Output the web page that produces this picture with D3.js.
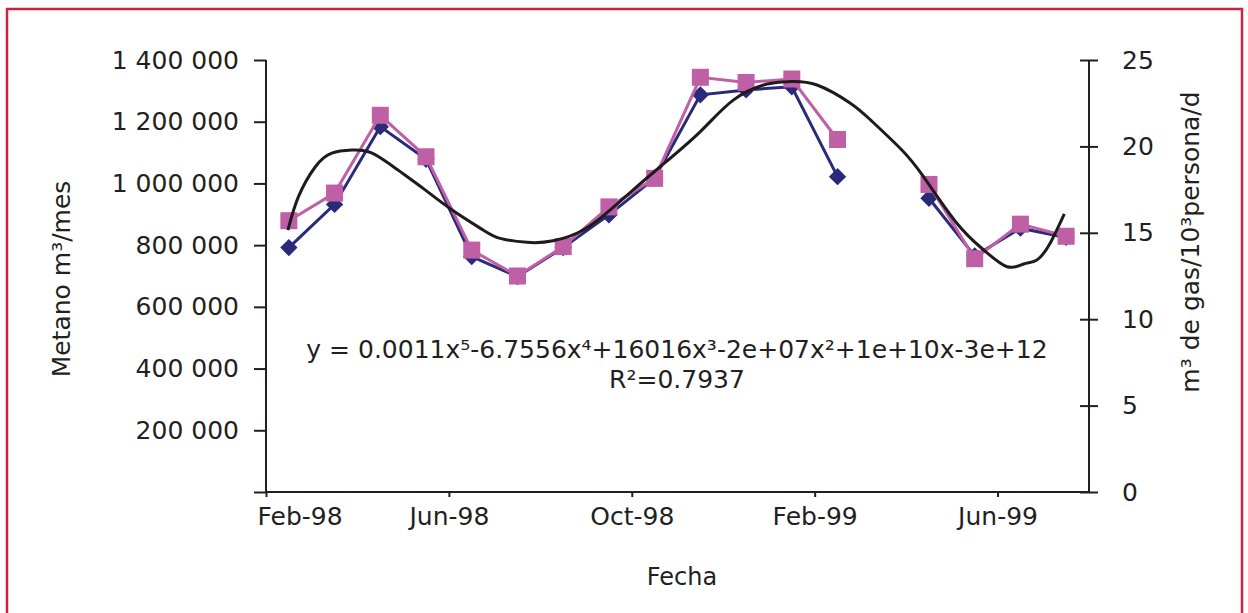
<!DOCTYPE html>
<html>
<head>
<meta charset="utf-8">
<script src="https://cdn.jsdelivr.net/npm/d3@7"></script>
<style>
  body { margin: 0; background: #fff; }
  svg text { font-family: "DejaVu Sans", sans-serif; fill: #231f20; }
  .axis path, .axis line { stroke: #231f20; stroke-width: 2; }
</style>
</head>
<body>
<div id="chart"></div>
<script>
// months of the date axis (one slot per month)
const months = ['Feb-98','Mar-98','Apr-98','May-98','Jun-98','Jul-98','Aug-98','Sep-98',
                'Oct-98','Nov-98','Dec-98','Jan-99','Feb-99','Mar-99','Apr-99','May-99',
                'Jun-99','Jul-99'];
// Metano m³/mes (left axis) - diamonds, no reading for Mar-99
const metano = [792000, 932000, 1184000, 1078000, 763000, 698000, 792000, 898000,
                1017000, 1287000, 1303000, 1313000, 1022000, null, 952000, 765000,
                855000, 825000];
// m³ de gas/10³persona/d (right axis) - squares
const gasPersona = [15.7, 17.3, 21.8, 19.4, 14.0, 12.5, 14.2, 16.5,
                    18.15, 24.0, 23.7, 23.9, 20.4, null, 17.8, 13.5,
                    15.5, 14.8];
// polynomial trend line: position in months from start of Feb-98, value (left units)
const trendPos = [0.48, 0.71, 1.08, 1.44, 1.88, 2.32, 2.89, 3.48, 4.07, 4.75, 5.12, 5.71,
                  6.28, 6.94, 7.53, 8.03, 8.62, 9.50, 10.22, 10.96, 11.47, 12.05, 12.78,
                  13.22, 13.87, 14.38, 15.11, 15.70, 16.21, 16.57, 16.86, 17.15, 17.46];
const trendVal = [849000, 957000, 1054000, 1098000, 1108000, 1098000, 1043000, 979000,
                  914000, 849000, 822000, 809000, 814000, 849000, 914000, 979000, 1054000,
                  1168000, 1270000, 1322000, 1330000, 1319000, 1260000, 1206000, 1114000,
                  1022000, 871000, 784000, 730000, 739000, 752000, 806000, 901000];
const leftTicks = [0, 200000, 400000, 600000, 800000, 1000000, 1200000, 1400000];
const rightTicks = [0, 5, 10, 15, 20, 25];
const xTickMonths = ['Feb-98', 'Jun-98', 'Oct-98', 'Feb-99', 'Jun-99'];
const equation = 'y = 0.0011x⁵-6.7556x⁴+16016x³-2e+07x²+1e+10x-3e+12';
const rSquared = 'R²=0.7937';

const width = 1248, height = 613;
const plot = {left: 266, right: 1089, top: 60, bottom: 492};
const fontSize = 25;

const svg = d3.select('#chart').append('svg')
    .attr('width', width)
    .attr('height', height);

// frame
svg.append('rect')
    .attr('x', 7).attr('y', 9)
    .attr('width', 1235).attr('height', 700)
    .attr('fill', 'none')
    .attr('stroke', '#cc2244')
    .attr('stroke-width', 2.5);

const x = d3.scaleLinear([0, months.length], [plot.left, plot.right]);
const yLeft = d3.scaleLinear([0, 1400000], [plot.bottom, plot.top]);
const yRight = d3.scaleLinear([0, 25], [plot.bottom, plot.top]);
const mid = i => x(i + 0.5);

const spaced = d3.formatLocale({decimal: ',', thousands: ' ', grouping: [3], currency: ['', '']}).format(',d');

// axes
const axisX = svg.append('g').classed('axis', true)
    .attr('transform', `translate(0,${plot.bottom})`)
    .call(d3.axisBottom(x)
        .tickValues(xTickMonths.map(m => months.indexOf(m)))
        .tickFormat(i => months[i])
        .tickSizeInner(5).tickSizeOuter(0).tickPadding(10));
axisX.selectAll('text').attr('font-size', fontSize).attr('dy', '0.71em');
axisX.selectAll('.tick').filter(i => i === 0).select('text')
    .attr('text-anchor', 'start').attr('x', -9);

const axisL = svg.append('g').classed('axis', true)
    .attr('transform', `translate(${plot.left},0)`)
    .call(d3.axisLeft(yLeft)
        .tickValues(leftTicks)
        .tickFormat(v => v ? spaced(v) : '')
        .tickSizeInner(12).tickSizeOuter(0).tickPadding(15));
axisL.selectAll('text').attr('font-size', fontSize);

const axisR = svg.append('g').classed('axis', true)
    .attr('transform', `translate(${plot.right},0)`)
    .call(d3.axisRight(yRight)
        .tickValues(rightTicks)
        .tickSizeInner(9).tickSizeOuter(0).tickPadding(24));
axisR.selectAll('.tick line').attr('x1', -9);
axisR.selectAll('text').attr('font-size', fontSize);
axisR.select('.domain').attr('d', `M0,${plot.top}V${plot.bottom}`);
axisL.select('.domain').attr('d', `M0,${plot.top}V${plot.bottom}`);
axisX.select('.domain').attr('d', `M${plot.left},0H${plot.right}`);

// axis titles
svg.append('text')
    .attr('transform', `translate(70,279)rotate(-90)`)
    .attr('text-anchor', 'middle')
    .attr('font-size', fontSize)
    .text('Metano m³/mes');
svg.append('text')
    .attr('transform', `translate(1199,242)rotate(-90)`)
    .attr('text-anchor', 'middle')
    .attr('font-size', fontSize)
    .text('m³ de gas/10³persona/d');
svg.append('text')
    .attr('x', 682).attr('y', 585)
    .attr('text-anchor', 'middle')
    .attr('font-size', fontSize - 1)
    .text('Fecha');

// series
const blue = '#292a78', pink = '#bf5fa6';
const lineLeft = d3.line()
    .defined(d => d[1] != null)
    .x(d => mid(d[0])).y(d => yLeft(d[1]));
const lineRight = d3.line()
    .defined(d => d[1] != null)
    .x(d => mid(d[0])).y(d => yRight(d[1]));

const metanoData = metano.map((v, i) => [i, v]);
const gasData = gasPersona.map((v, i) => [i, v]);

svg.append('path')
    .attr('d', lineLeft(metanoData))
    .attr('fill', 'none').attr('stroke', blue).attr('stroke-width', 3);
svg.append('g').selectAll('path')
    .data(metanoData.filter(d => d[1] != null))
    .join('path')
    .attr('d', d3.symbol(d3.symbolSquare, 150)())
    .attr('transform', d => `translate(${mid(d[0])},${yLeft(d[1])})rotate(45)`)
    .attr('fill', blue);

svg.append('path')
    .attr('d', lineRight(gasData))
    .attr('fill', 'none').attr('stroke', pink).attr('stroke-width', 3);
svg.append('g').selectAll('rect')
    .data(gasData.filter(d => d[1] != null))
    .join('rect')
    .attr('x', d => mid(d[0]) - 8.5)
    .attr('y', d => yRight(d[1]) - 8.5)
    .attr('width', 17).attr('height', 17)
    .attr('fill', pink);

// trend line
const trendLine = d3.line()
    .x(d => x(d[0])).y(d => yLeft(d[1]))
    .curve(d3.curveNatural);
svg.append('path')
    .attr('d', trendLine(trendPos.map((p, i) => [p, trendVal[i]])))
    .attr('fill', 'none').attr('stroke', '#1f1b1c').attr('stroke-width', 3);

// equation
svg.append('text')
    .attr('x', 677).attr('y', 358)
    .attr('text-anchor', 'middle')
    .attr('font-size', fontSize)
    .text(equation);
svg.append('text')
    .attr('x', 677).attr('y', 388)
    .attr('text-anchor', 'middle')
    .attr('font-size', fontSize)
    .text(rSquared);
</script>
</body>
</html>
